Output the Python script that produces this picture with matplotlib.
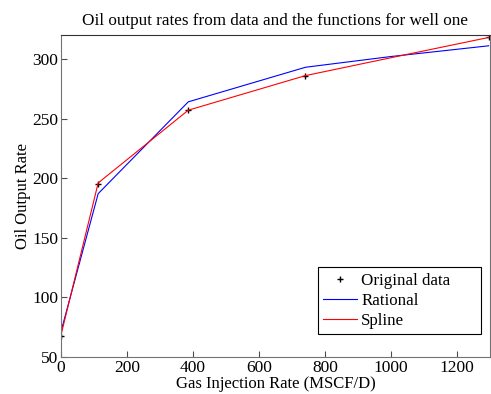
import numpy as np
import matplotlib.pyplot as plt

plt.rcParams['font.family'] = ['Liberation Serif', 'DejaVu Serif']

# data
gas_data = [0, 113, 386, 741, 1296]
oil_data = [68, 195, 257, 286, 318]

gas_rational = [0, 113, 386, 741, 1000, 1296]
oil_rational = [71, 187, 264, 293, 302, 311]

gas_spline = [0, 113, 386, 741, 1000, 1296]
oil_spline = [68, 196, 257, 286, 301, 318]

fig = plt.figure(figsize=(4.91, 3.94), dpi=100)
ax = fig.add_axes([0.124, 0.094, 0.874, 0.817])

ax.plot(gas_data, oil_data, "k+", markersize=5, label="Original data\u2003\u2002")
ax.plot(gas_rational, oil_rational, "b-", linewidth=0.8, label="Rational")
ax.plot(gas_spline, oil_spline, "r-", linewidth=0.8, label="Spline")

ax.set_xlim(0, 1300)
ax.set_ylim(50, 320)
ax.set_xticks([0, 200, 400, 600, 800, 1000, 1200])
ax.set_yticks([50, 100, 150, 200, 250, 300])
ax.tick_params(direction="in", labelsize=12.5, length=4, color="0.3", pad=2)
for s in ax.spines.values():
    s.set_color("0.45")
ax.spines["top"].set_color("0.2")

ax.set_title("Oil output rates from data and the functions for well one", fontsize=12.3, pad=7)
ax.set_xlabel("Gas Injection Rate (MSCF/D)", fontsize=12, labelpad=0)
ax.set_ylabel("Oil Output Rate", fontsize=12, labelpad=1)

leg = ax.legend(loc="lower right", bbox_to_anchor=(0.979, 0.071), fontsize=12.2,
                fancybox=False, framealpha=1, edgecolor="k", borderaxespad=0,
                handlelength=2.0, borderpad=0.3, labelspacing=0.25, handletextpad=0.25)
leg.get_frame().set_linewidth(0.8)

fig.savefig("out.png", dpi=100)
